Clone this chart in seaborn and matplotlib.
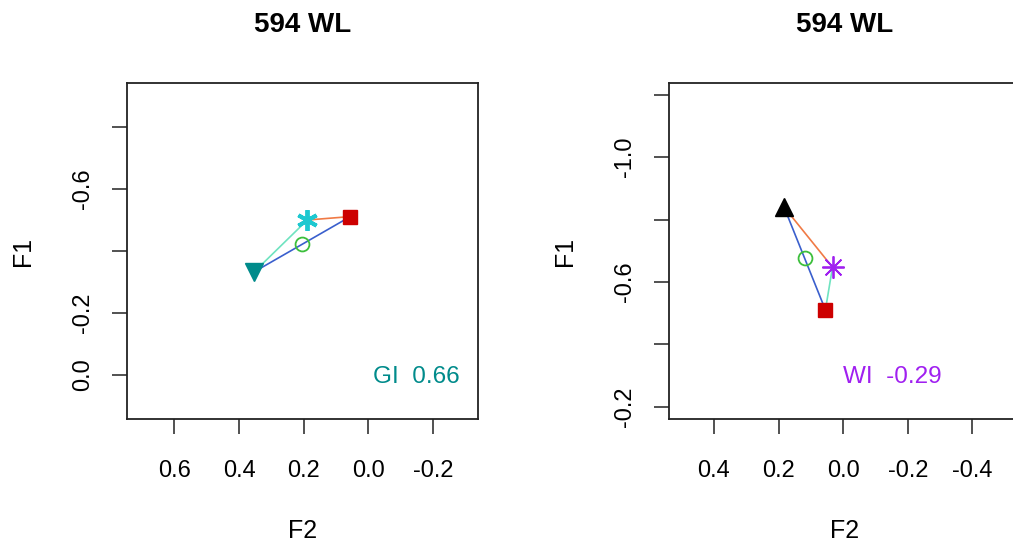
import matplotlib
matplotlib.use("Agg")
import matplotlib.pyplot as plt
import seaborn as sns
import pandas as pd

# ---- data ----
point_ids = ["tri", "sq", "ast", "mid"]

left_f2 = [0.353, 0.056, 0.189, 0.205]
left_f1 = [-0.333, -0.511, -0.500, -0.423]
left_index_name = "GI"
left_index_value = 0.66

right_f2 = [0.183, 0.055, 0.033, 0.119]
right_f1 = [-0.840, -0.510, -0.647, -0.675]
right_index_name = "WI"
right_index_value = -0.29

# segments (from, to) per panel: orange, blue, aquamarine
left_segments = [("ast", "sq"), ("tri", "sq"), ("tri", "ast")]
right_segments = [("tri", "ast"), ("tri", "sq"), ("ast", "sq")]

left_xticks = [0.6, 0.4, 0.2, 0.0, -0.2]
left_yticks = [-0.8, -0.6, -0.4, -0.2, 0.0]
left_ylabels = ["", "-0.6", "", "-0.2", "0.0"]
right_xticks = [0.4, 0.2, 0.0, -0.2, -0.4]
right_yticks = [-1.2, -1.0, -0.8, -0.6, -0.4, -0.2]
right_ylabels = ["", "-1.0", "", "-0.6", "", "-0.2"]

title = "594 WL"

# ==========================================
# STYLE
# ==========================================
sns.set_style("white")
plt.rcParams['font.family'] = ['Liberation Sans', 'DejaVu Sans']
plt.rcParams.update({"text.color": "black", "axes.labelcolor": "black",
                     "xtick.color": "black", "ytick.color": "black"})

seg_colors = ["#F07A45", "#3A5FCD", "#6FE3C0"]
RED = "#CD0000"
GREEN = "#3CBF3C"


def draw_panel(ax, f2, f1, segments, tri_marker, tri_color, ast_color,
               ast_marker, ast_lw, ast_size, idx_name, idx_val, idx_color, idx_xy,
               xticks, yticks, ylabels, xlim, ylim):
    df = pd.DataFrame({"id": point_ids, "F2": f2, "F1": f1}).set_index("id")

    for (a, b), c in zip(segments, seg_colors):
        seg = df.loc[[a, b]]
        sns.lineplot(x=seg["F2"].values, y=seg["F1"].values, sort=False,
                     color=c, linewidth=1.2, ax=ax, zorder=2)

    # open circle (midpoint)
    ax.plot(df.loc["mid", "F2"], df.loc["mid", "F1"], marker="o", ms=10,
            mfc="none", mec=GREEN, mew=1.3, ls="none", zorder=3)
    # filled triangle
    ax.plot(df.loc["tri", "F2"], df.loc["tri", "F1"], marker=tri_marker, ms=12.5,
            color=tri_color, ls="none", zorder=4)
    # red square
    ax.plot(df.loc["sq", "F2"], df.loc["sq", "F1"], marker="s", ms=9.5,
            color=RED, ls="none", zorder=4)
    # asterisk
    ax.plot(df.loc["ast", "F2"], df.loc["ast", "F1"], marker=ast_marker,
            ms=ast_size, mec=ast_color, mew=ast_lw, ls="none", zorder=5)

    ax.text(idx_xy[0], idx_xy[1], f"{idx_name}  {idx_val:.2f}", color=idx_color,
            fontsize=17.5, ha="center", va="center", transform=ax.transAxes)

    ax.set_xlim(*xlim)
    ax.set_ylim(*ylim)
    ax.set_xticks(xticks, labels=[f"{t:.1f}" for t in xticks])
    ax.set_yticks(yticks, labels=ylabels)
    ax.tick_params(axis="both", direction="out", length=10.8, width=1.1,
                   color="#222222", labelcolor="black", labelsize=17,
                   bottom=True, left=True, top=False, right=False)
    ax.tick_params(axis="x", pad=18.5)
    ax.tick_params(axis="y", pad=13)
    for lbl in ax.get_yticklabels():
        lbl.set_rotation(90)
        lbl.set_va("center")
    for s in ax.spines.values():
        s.set_visible(True)
        s.set_color("#222222")
        s.set_linewidth(1.3)
    ax.set_xlabel("F2", fontsize=18, labelpad=27)
    ax.set_ylabel("F1", fontsize=18, labelpad=26.5)
    ax.set_title(title, fontsize=20, fontweight="bold", pad=37)


fig = plt.figure(figsize=(10.13, 5.43), dpi=100)
axL = fig.add_axes([127.3 / 1013, 124 / 543, 351 / 1013, 336 / 543])
axR = fig.add_axes([669.3 / 1013, 124 / 543, 351 / 1013, 336 / 543])

draw_panel(axL, left_f2, left_f1, left_segments, "v", "#008B8B", "#1EC8D0",
           (6, 2, 0), 2.8, 15, left_index_name, left_index_value, "#008B8B",
           (0.824, 0.125), left_xticks, left_yticks, left_ylabels,
           (0.746, -0.34), (0.142, -0.942))
draw_panel(axR, right_f2, right_f1, right_segments, "^", "black", "#A020F0",
           (8, 2, 0), 1.3, 16, right_index_name, right_index_value, "#A020F0",
           (0.634, 0.124), right_xticks, right_yticks, right_ylabels,
           (0.538, -0.548), (-0.16, -1.238))

plt.savefig("out.png", dpi=100)
